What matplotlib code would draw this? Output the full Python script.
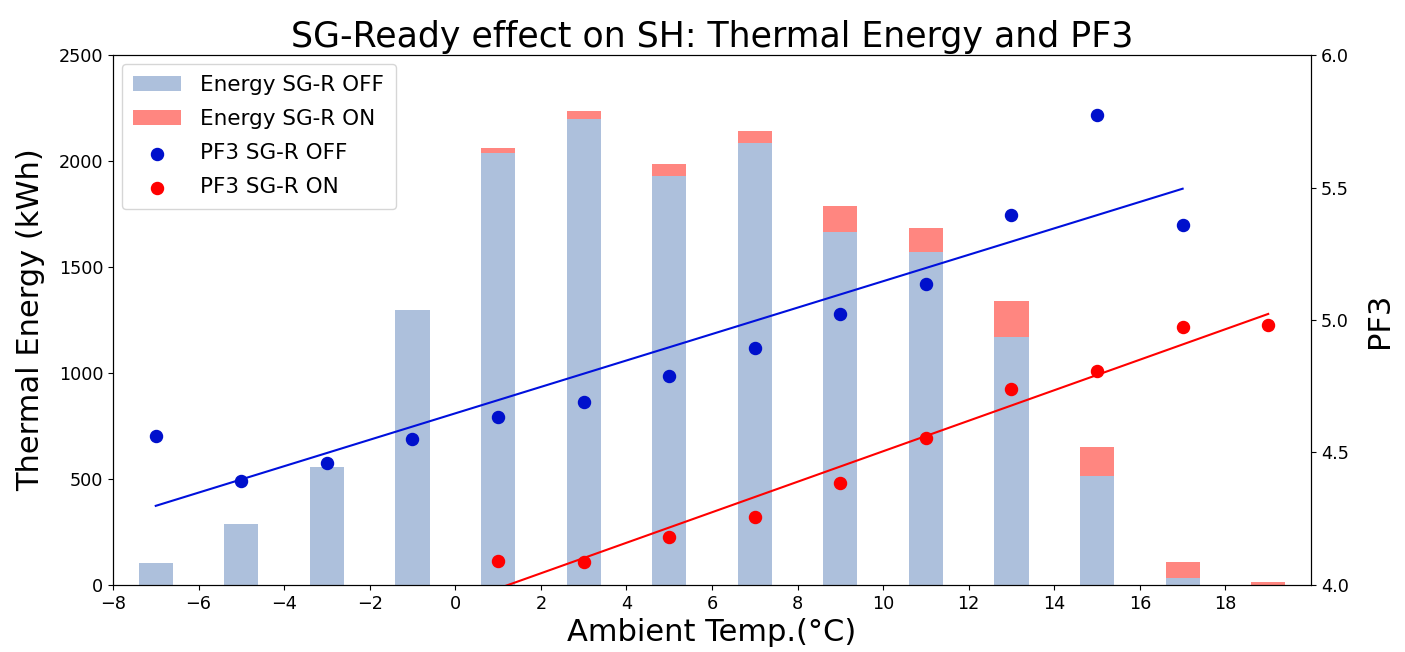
import numpy as np
import matplotlib
matplotlib.use("Agg")
import matplotlib.pyplot as plt

# Data
temps = [-7, -5, -3, -1, 1, 3, 5, 7, 9, 11, 13, 15, 17, 19]
energy_off = [105, 290, 556, 1298, 2037, 2200, 1928, 2083, 1663, 1572, 1170, 512, 32, 0]
energy_on_total = [105, 290, 556, 1298, 2062, 2237, 1985, 2140, 1790, 1685, 1340, 650, 108, 12]

pf3_off_temps = [-7, -5, -3, -1, 1, 3, 5, 7, 9, 11, 13, 15, 17]
pf3_off = [4.562, 4.393, 4.461, 4.551, 4.634, 4.691, 4.789, 4.896, 5.024, 5.134, 5.395, 5.772, 5.360]
pf3_on_temps = [1, 3, 5, 7, 9, 11, 13, 15, 17, 19]
pf3_on = [4.089, 4.085, 4.180, 4.255, 4.384, 4.555, 4.738, 4.807, 4.972, 4.982]

fig = plt.figure(figsize=(14.05, 6.52), dpi=100)
ax1 = fig.add_axes([0.0804, 0.1028, 0.8527, 0.8128])
ax2 = ax1.twinx()

b_on = ax1.bar(temps, energy_on_total, width=0.8, color='#ff8680', label='Energy SG-R ON')
b_off = ax1.bar(temps, energy_off, width=0.8, color='#adc0dc', label='Energy SG-R OFF')

s_off = ax2.scatter(pf3_off_temps, pf3_off, s=75, color='#0010cc', label='PF3 SG-R OFF', zorder=3)
s_on = ax2.scatter(pf3_on_temps, pf3_on, s=75, color='#ff0000', label='PF3 SG-R ON', zorder=3)

x_off = np.array(pf3_off_temps)
c_off = np.polyfit(x_off, pf3_off, 1)
ax2.plot(x_off, np.polyval(c_off, x_off), color='#0010dd', lw=1.5)
x_on = np.array(pf3_on_temps)
c_on = np.polyfit(x_on, pf3_on, 1)
ax2.plot(x_on, np.polyval(c_on, x_on), color='#ff0000', lw=1.5)

ax1.set_xlim(-8, 20)
ax1.set_ylim(0, 2500)
ax2.set_ylim(4.0, 6.0)
ax1.set_xticks(range(-8, 20, 2))
ax2.set_yticks([4.0, 4.5, 5.0, 5.5, 6.0])

ax1.tick_params(labelsize=12.7)
ax2.tick_params(labelsize=12.7)

ax1.set_xlabel('Ambient Temp.(°C)', fontsize=22, labelpad=4)
ax1.set_ylabel('Thermal Energy (kWh)', fontsize=22, labelpad=10)
ax2.set_ylabel('PF3', fontsize=22, labelpad=12)
ax1.set_title('SG-Ready effect on SH: Thermal Energy and PF3', fontsize=25, pad=6)

ax2.legend([b_off, b_on, s_off, s_on],
           ['Energy SG-R OFF', 'Energy SG-R ON', 'PF3 SG-R OFF', 'PF3 SG-R ON'],
           loc='upper left', fontsize=15.5, labelspacing=0.65, borderpad=0.55,
           handlelength=2.2, handletextpad=0.9, borderaxespad=0.4)

fig.savefig('out.png', dpi=100)
